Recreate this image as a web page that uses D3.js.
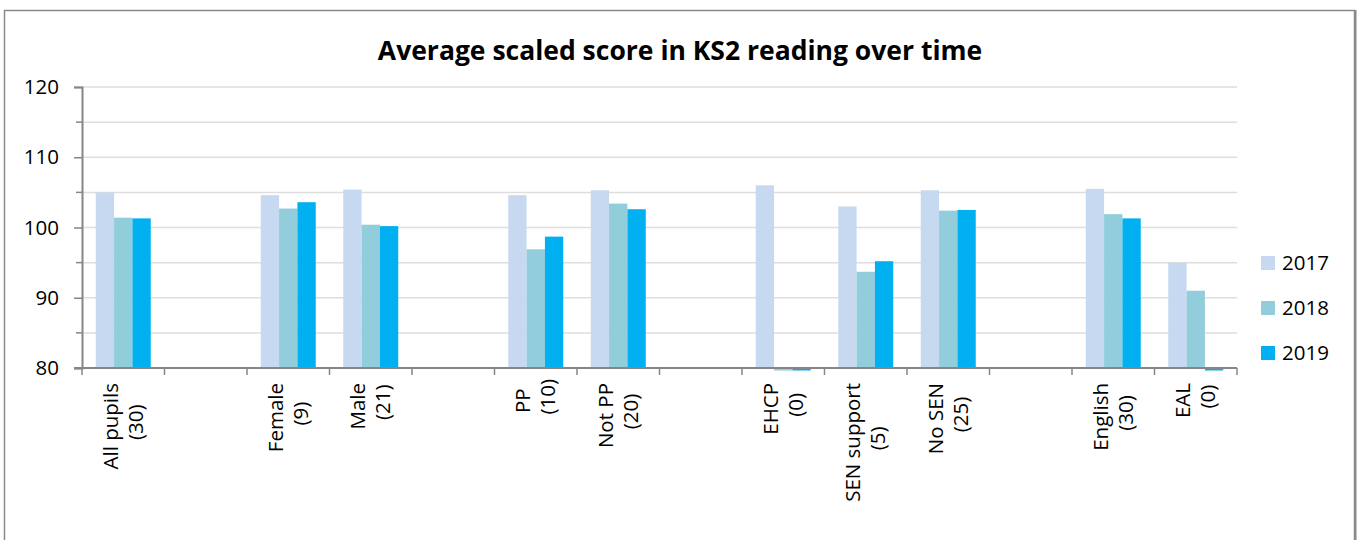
<!DOCTYPE html>
<html>
<head>
<meta charset="utf-8">
<script src="https://cdn.jsdelivr.net/npm/d3@7"></script>
<style>
  html, body { margin: 0; padding: 0; background: #fff; }
  svg { display: block; font-family: "Open Sans", "Noto Sans", sans-serif; }
</style>
</head>
<body>
<svg id="chart" width="1360" height="540"></svg>
<script>
// ---- data ----
const categories = [
  "All pupils\n(30)", "", "Female\n(9)", "Male\n(21)", " ",
  "PP\n(10)", "Not PP\n(20)", "  ",
  "EHCP\n(0)", "SEN support\n(5)", "No SEN\n(25)", "   ",
  "English\n(30)", "EAL\n(0)"
];
const seriesNames = ["2017", "2018", "2019"];
const values2017 = [105.0, null, 104.6, 105.4, null, 104.6, 105.3, null, 106.0, 103.0, 105.3, null, 105.5, 95.0];
const values2018 = [101.4, null, 102.7, 100.4, null, 96.9, 103.4, null, 0, 93.7, 102.4, null, 101.9, 91.0];
const values2019 = [101.3, null, 103.6, 100.2, null, 98.7, 102.6, null, 0, 95.2, 102.5, null, 101.3, 0];
const yTicks = [80, 90, 100, 110, 120];
const yMinorTicks = [85, 95, 105, 115];
const colors = ["#C6D9F0", "#92CDDC", "#00B0F0"];
const titleText = "Average scaled score in KS2 reading over time";

// ---- layout ----
const svg = d3.select("#chart");
const plot = { left: 82, right: 1237, top: 87, bottom: 368 };

// outer frame
svg.append("rect")
  .attr("x", 4.5).attr("y", 10.5)
  .attr("width", 1350).attr("height", 560)
  .attr("fill", "none").attr("stroke", "#8a8a8a").attr("stroke-width", 1.5);
svg.append("line")
  .attr("x1", 1355.5).attr("x2", 1355.5).attr("y1", 10).attr("y2", 540)
  .attr("stroke", "#8a8a8a").attr("stroke-width", 2);

svg.append("text")
  .attr("x", 680).attr("y", 60)
  .attr("text-anchor", "middle")
  .attr("font-size", 26.5).attr("font-weight", "bold").attr("fill", "#000")
  .text(titleText);

const x0 = d3.scaleBand().domain(categories).range([plot.left, plot.right]).paddingInner(0).paddingOuter(0);
const x1 = d3.scaleBand().domain(seriesNames).range([0, x0.bandwidth()]).paddingInner(0).paddingOuter(0.75);
const y = d3.scaleLinear().domain([80, 120]).range([plot.bottom, plot.top]);

// gridlines
const g = svg.append("g");
g.selectAll("line.grid")
  .data(yTicks.concat(yMinorTicks).filter(v => v !== 80))
  .join("line")
  .attr("x1", plot.left).attr("x2", plot.right)
  .attr("y1", d => y(d)).attr("y2", d => y(d))
  .attr("stroke", "#DEDEDE").attr("stroke-width", 1.5);

// bars
const allSeries = [values2017, values2018, values2019];
const barData = [];
categories.forEach((c, i) => {
  seriesNames.forEach((s, j) => {
    const v = allSeries[j][i];
    if (v !== null && v !== undefined) barData.push({ c, s, v, j });
  });
});
g.selectAll("rect.bar")
  .data(barData)
  .join("rect")
  .attr("x", d => x0(d.c) + x1(d.s))
  .attr("width", x1.bandwidth())
  .attr("y", d => d.v >= 80 ? y(d.v) : y(80))
  .attr("height", d => d.v >= 80 ? y(80) - y(d.v) : 2.5)
  .attr("fill", d => colors[d.j]);

// y axis
const yAxis = d3.axisLeft(y).tickValues(yTicks).tickSize(8).tickPadding(15).tickFormat(d3.format("d"));
const ya = svg.append("g").attr("transform", `translate(${plot.left},0)`).call(yAxis);
ya.select(".domain").attr("stroke", "#868686").attr("stroke-width", 2);
ya.selectAll(".tick line").attr("stroke", "#868686").attr("stroke-width", 1.5);
ya.selectAll(".tick text").attr("font-size", 20.5).attr("fill", "#000")
  .attr("font-family", '"Open Sans", "Noto Sans", sans-serif');
svg.append("g").selectAll("line")
  .data(yMinorTicks).join("line")
  .attr("x1", plot.left - 6).attr("x2", plot.left)
  .attr("y1", d => y(d)).attr("y2", d => y(d))
  .attr("stroke", "#868686").attr("stroke-width", 1.5);

// x axis (ticks at band boundaries)
const boundaries = categories.map(c => x0(c)).concat([plot.right]);
const xa = svg.append("g");
xa.append("line")
  .attr("x1", plot.left - 8).attr("x2", plot.right)
  .attr("y1", plot.bottom).attr("y2", plot.bottom)
  .attr("stroke", "#868686").attr("stroke-width", 2);
xa.selectAll("line.tick")
  .data(boundaries).join("line")
  .attr("x1", d => d).attr("x2", d => d)
  .attr("y1", plot.bottom).attr("y2", plot.bottom + 7)
  .attr("stroke", "#868686").attr("stroke-width", 1.5);

// category labels (rotated, multi-line, centered)
const lineH = 25;
categories.forEach(c => {
  const lines = c.trim() === "" ? [] : c.split("\n");
  if (!lines.length) return;
  const cx = x0(c) + x0.bandwidth() / 2;
  const n = lines.length;
  const t = svg.append("text")
    .attr("transform", `translate(${cx},${plot.bottom + 15}) rotate(-90)`)
    .attr("font-size", 20.5).attr("fill", "#000");
  lines.forEach((ln, k) => {
    t.append("tspan")
      .attr("x", 0)
      .attr("y", (k - (n - 1) / 2) * lineH + 7)
      .text(ln);
  });
  const widths = [];
  t.selectAll("tspan").each(function () { widths.push(this.getComputedTextLength()); });
  const maxW = d3.max(widths);
  t.selectAll("tspan").attr("text-anchor", "middle").attr("x", (d, k) => -maxW / 2 + (k > 0 ? 4 : 0));
});

// legend
const legend = svg.append("g");
seriesNames.forEach((s, j) => {
  const ly = 263 + j * 45;
  legend.append("rect").attr("x", 1261).attr("y", ly - 7).attr("width", 14).attr("height", 14).attr("fill", colors[j]);
  legend.append("text").attr("x", 1282).attr("y", ly).attr("dy", "0.35em")
    .attr("font-size", 20.5).attr("fill", "#000").text(s);
});
</script>
</body>
</html>
